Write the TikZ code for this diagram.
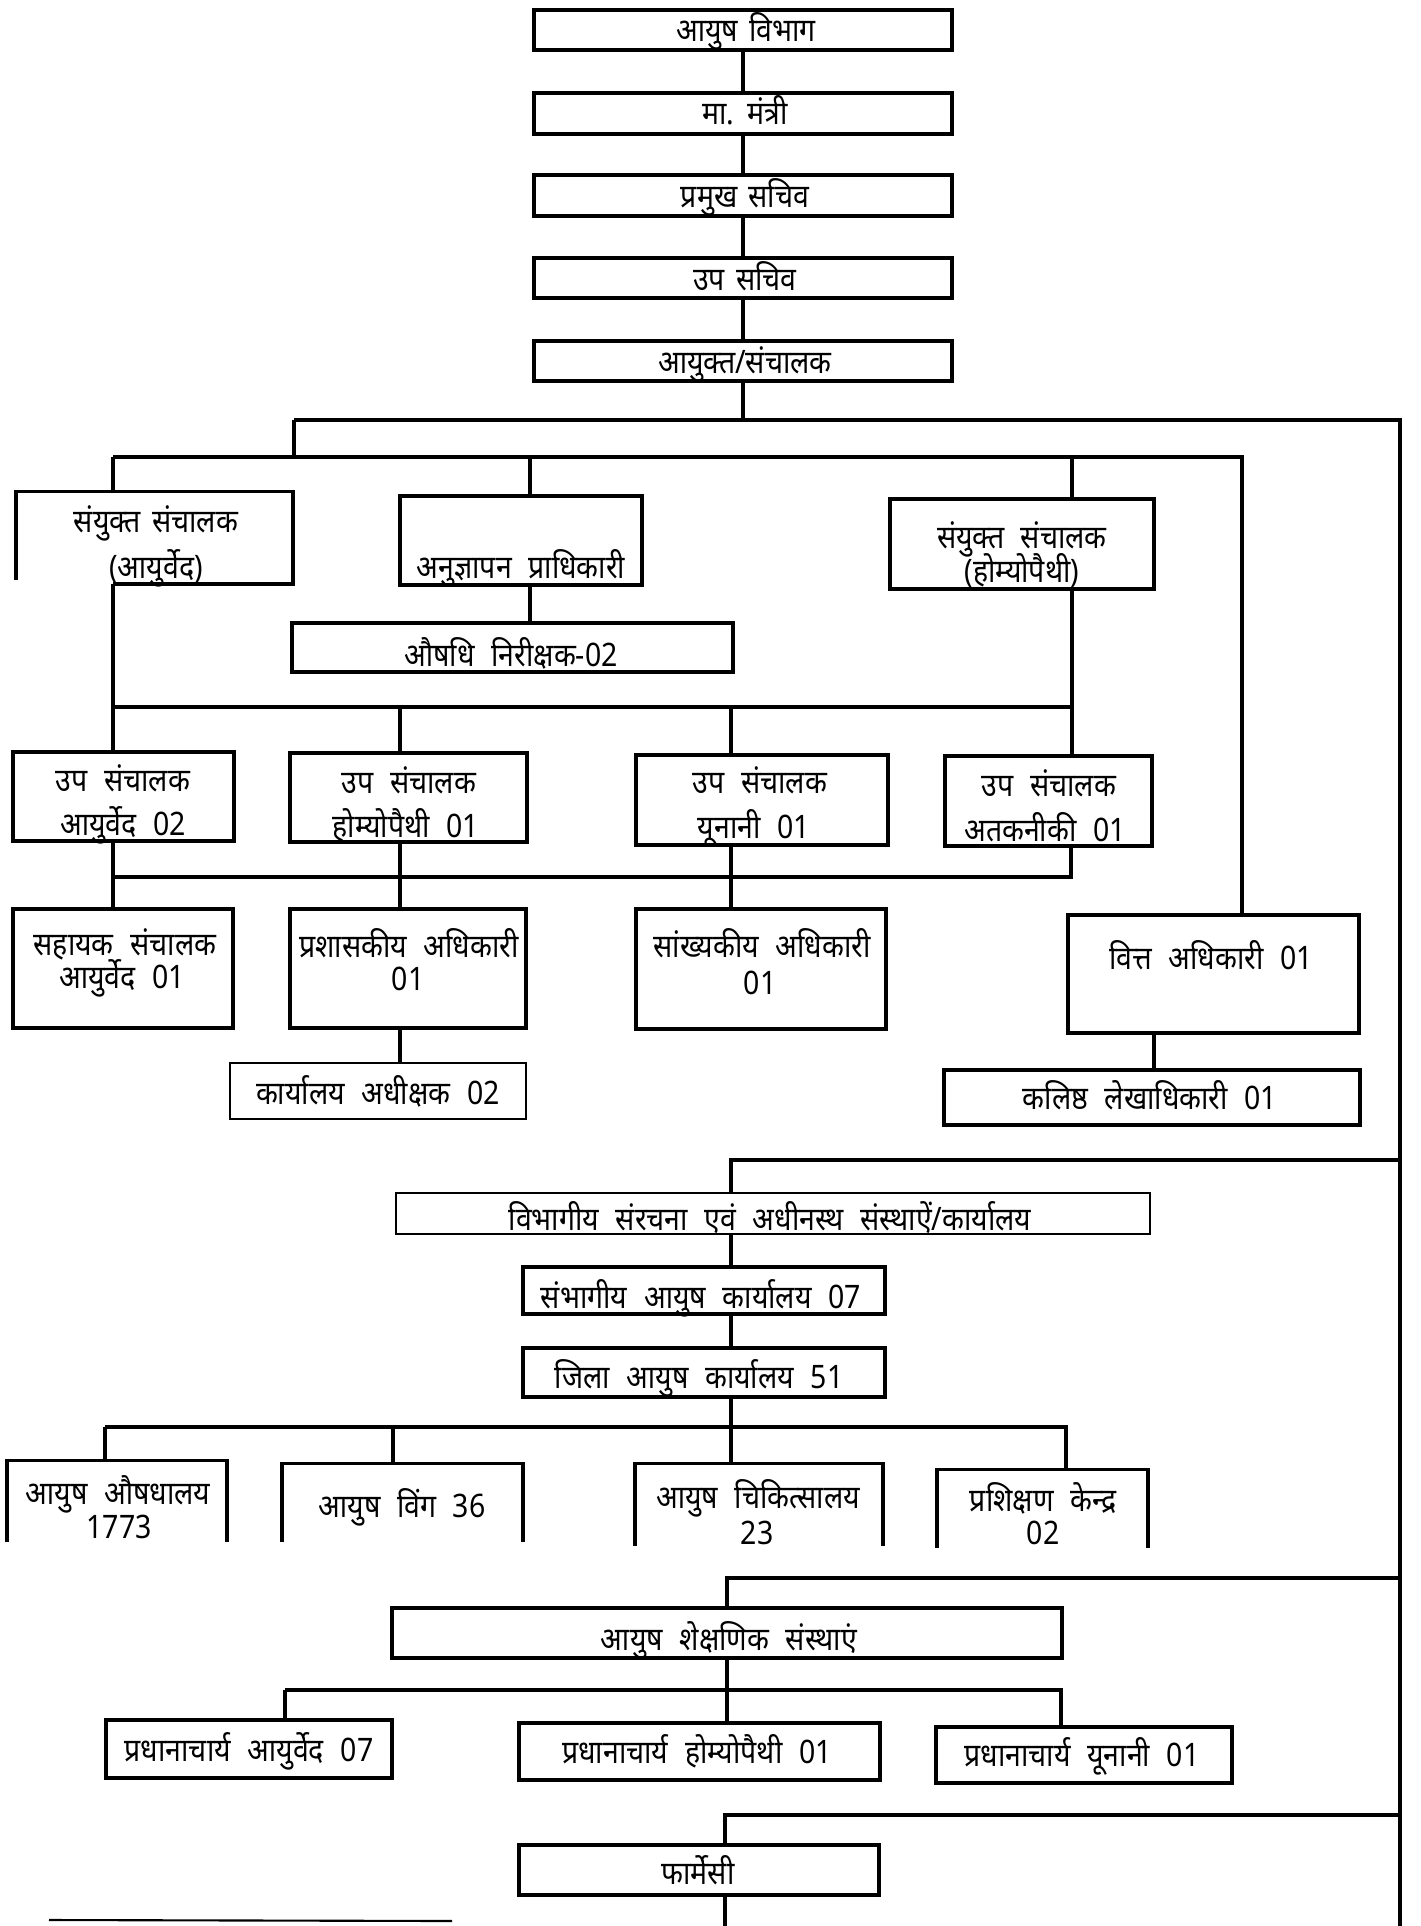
\documentclass[tikz,border=0pt]{standalone}
\usepackage{fontspec}
\newfontfamily\deva[Script=Devanagari, FakeStretch=0.88, WordSpace=1.5]{Noto Sans}
\usetikzlibrary{calc}
\begin{document}
\begin{tikzpicture}[x=0.01cm,y=-0.01cm,
  bx/.style={draw, line width=1pt, inner sep=0pt},
  topbx/.style={bx, line width=1.2pt},
  thinbx/.style={bx, line width=0.6pt},
  openbx/.style={inner sep=0pt},
  ln/.style={line width=0.9pt},
  obx/.style={line width=1pt},
  tx/.style={font=\deva\fontsize{9.2}{11}\selectfont, inner sep=0pt, text height=6.6pt, text depth=0pt},
  txb/.style={tx, font=\deva\bfseries\fontsize{9.2}{11}\selectfont}]
\useasboundingbox (0,0) rectangle (1420,1926);

% ---------- boxes ----------
\node[topbx, minimum width=4.18cm, minimum height=0.40cm] (b1) at (743,30) {};
\node[topbx, minimum width=4.18cm, minimum height=0.41cm] (b2) at (743,113.5) {};
\node[topbx, minimum width=4.18cm, minimum height=0.41cm] (b3) at (743,195.5) {};
\node[topbx, minimum width=4.18cm, minimum height=0.40cm] (b4) at (743,278) {};
\node[topbx, minimum width=4.18cm, minimum height=0.40cm] (b5) at (743,361) {};

\node[openbx, minimum width=2.75cm, minimum height=0.91cm] (A) at (154.5,537.5) {};
\node[bx, minimum width=2.42cm, minimum height=0.89cm] (B) at (521,540.5) {};
\node[bx, minimum width=4.41cm, minimum height=0.49cm] (OI) at (512.5,647.5) {};
\node[bx, minimum width=2.64cm, minimum height=0.90cm] (C) at (1022,544) {};

\node[bx, minimum width=2.21cm, minimum height=0.89cm] (D1) at (123.5,796.5) {};
\node[bx, minimum width=2.37cm, minimum height=0.89cm] (D2) at (408.5,797.5) {};
\node[bx, minimum width=2.52cm, minimum height=0.90cm] (D3) at (762,800) {};
\node[bx, minimum width=2.07cm, minimum height=0.90cm] (D4) at (1048.5,801) {};

\node[bx, minimum width=2.20cm, minimum height=1.19cm] (E1) at (123,968.5) {};
\node[bx, minimum width=2.36cm, minimum height=1.19cm] (E2) at (408,968.5) {};
\node[bx, minimum width=2.50cm, minimum height=1.20cm] (E3) at (761,969) {};
\node[bx, minimum width=2.91cm, minimum height=1.18cm] (F) at (1213.5,974) {};
\node[thinbx, minimum width=2.96cm, minimum height=0.56cm] (G) at (378,1091) {};
\node[bx, minimum width=4.16cm, minimum height=0.55cm] (H) at (1152,1097.5) {};

\node[thinbx, minimum width=7.54cm, minimum height=0.41cm] (I) at (773,1213.5) {};
\node[bx, minimum width=3.62cm, minimum height=0.47cm] (J) at (704,1290.5) {};
\node[bx, minimum width=3.62cm, minimum height=0.49cm] (K) at (704,1372.5) {};

\node[openbx, minimum width=2.18cm, minimum height=0.80cm] (L1) at (117,1501) {};
\node[openbx, minimum width=2.39cm, minimum height=0.77cm] (L2) at (402.5,1502.5) {};
\node[openbx, minimum width=2.46cm, minimum height=0.81cm] (L3) at (759,1504.5) {};
\node[openbx, minimum width=2.09cm, minimum height=0.77cm] (L4) at (1042.5,1508.5) {};

\node[bx, minimum width=6.70cm, minimum height=0.50cm] (M) at (727,1633) {};
\node[bx, minimum width=2.86cm, minimum height=0.58cm] (N1) at (249,1749) {};
\node[bx, minimum width=3.61cm, minimum height=0.57cm] (N2) at (699.5,1751.5) {};
\node[bx, minimum width=2.96cm, minimum height=0.56cm] (N3) at (1084,1755) {};
\node[bx, minimum width=3.60cm, minimum height=0.50cm] (O) at (699,1870) {};

% open boxes
\coordinate (h2L) at (113,457);
\draw[obx] ($(A.south west)+(0,-4)$) -- (A.north west) -- (A.north east) -- (A.south east) -- (A.south east -| h2L);
\draw[obx] (L1.south west) -- (L1.north west) -- (L1.north east) -- (L1.south east);
\draw[obx] (L2.south west) -- (L2.north west) -- (L2.north east) -- (L2.south east);
\draw[obx] (L3.south west) -- (L3.north west) -- (L3.north east) -- (L3.south east);
\draw[obx] (L4.south west) -- (L4.north west) -- (L4.north east) -- (L4.south east);

% ---------- connectors ----------
\draw[ln] (b1) -- (b2);
\draw[ln] (b2) -- (b3);
\draw[ln] (b3) -- (b4);
\draw[ln] (b4) -- (b5);
\coordinate (h1L) at (294,420);
\coordinate (h1R) at (1400,420);
\coordinate (trunk) at (1400,1926);
\draw[ln] (b5.south) -- (b5.south |- h1L);
\draw[ln] (h1L) -- (h1R) -- (trunk);
\coordinate (h2R) at (1242,457);
\draw[ln] (h1L) -- (h1L |- h2L);
\draw[ln] (h2L) -- (h2R) -- (h2R |- F.north);
\draw[ln] (h2L) -- (h2L |- A.north);
\coordinate (cB) at (530,457);
\draw[ln] (cB) -- (cB |- B.north);
\draw[ln] (cB |- B.south) -- (cB |- OI.north);
\coordinate (cC) at (1072,457);
\draw[ln] (cC) -- (cC |- C.north);
\draw[ln] (cC |- C.south) -- (cC |- D4.north);
\coordinate (h3R) at (1072,707);
\draw[ln] (h2L |- h3R) -- (h3R);
\draw[ln] (h2L |- A.south) -- (h2L |- D1.north);
\coordinate (cD2) at (400,707);
\draw[ln] (cD2) -- (cD2 |- D2.north);
\coordinate (cD3) at (731,707);
\draw[ln] (cD3) -- (cD3 |- D3.north);
\coordinate (h4R) at (1071,877);
\draw[ln] (h4R |- D4.south) -- (h4R) -- (h2L |- h4R);
\draw[ln] (h2L |- D1.south) -- (h2L |- E1.north);
\draw[ln] (cD2 |- D2.south) -- (cD2 |- E2.north);
\draw[ln] (cD3 |- D3.south) -- (cD3 |- E3.north);
\draw[ln] (cD2 |- E2.south) -- (cD2 |- G.north);
\coordinate (xH) at (1154,1050);
\draw[ln] (xH |- F.south) -- (xH |- H.north);

\coordinate (s2) at (731,1160);
\draw[ln] (h1R |- s2) -- (s2) -- (s2 |- I.north);
\draw[ln] (s2 |- I.south) -- (s2 |- J.north);
\draw[ln] (s2 |- J.south) -- (s2 |- K.north);
\draw[ln] (s2 |- K.south) -- (s2 |- L3.north);
\coordinate (h5L) at (105,1427);
\coordinate (h5R) at (1066,1427);
\draw[ln] (h5L) -- (h5R) -- (h5R |- L4.north);
\draw[ln] (h5L) -- (h5L |- L1.north);
\coordinate (cL2) at (393,1427);
\draw[ln] (cL2) -- (cL2 |- L2.north);

\coordinate (s3) at (727,1578);
\draw[ln] (h1R |- s3) -- (s3) -- (s3 |- M.north);
\draw[ln] (s3 |- M.south) -- (s3 |- N2.north);
\coordinate (h6L) at (285,1690);
\coordinate (h6R) at (1061,1690);
\draw[ln] (h6L) -- (h6R) -- (h6R |- N3.north);
\draw[ln] (h6L) -- (h6L |- N1.north);

\coordinate (s4) at (725,1815);
\draw[ln] (h1R |- s4) -- (s4) -- (s4 |- O.north);
\draw[ln] (s4 |- O.south) -- (s4 |- trunk);

\coordinate (lo1) at (49,1920);
\coordinate (lo2) at (452,1921);
\draw[line width=0.6pt] (lo1) -- (lo2);

% ---------- texts ----------
\node[tx] (t1) at (746,30) {आयुष विभाग};
\node[tx] (t2) at (745,113) {मा. मंत्री};
\node[tx] (t3) at (745,196) {प्रमुख सचिव};
\node[tx] (t4) at (745,279) {उप सचिव};
\node[tx] (t5) at (745,362) {आयुक्त/संचालक};
\node[tx] (tA1) at (156,521) {संयुक्त संचालक};
\node[tx] (tA2) at (156,567) {(आयुर्वेद)};
\node[txb] (tB) at (521,567) {अनुज्ञापन प्राधिकारी};
\node[txb] (tOI) at (511,655) {औषधि निरीक्षक-02};
\node[txb] (tC1) at (1022,537) {संयुक्त संचालक};
\node[txb] (tC2) at (1022,571) {(होम्योपैथी)};
\node[tx] (tD1a) at (123,780) {उप संचालक};
\node[tx] (tD1b) at (123,824) {आयुर्वेद 02};
\node[tx] (tD2a) at (409,782) {उप संचालक};
\node[tx] (tD2b) at (406,826) {होम्योपैथी 01};
\node[tx] (tD3a) at (760,782) {उप संचालक};
\node[tx] (tD3b) at (754,827) {यूनानी 01};
\node[tx] (tD4a) at (1049,785) {उप संचालक};
\node[tx] (tD4b) at (1045,830) {अतकनीकी 01};
\node[txb] (tE1a) at (125,944) {सहायक संचालक};
\node[txb] (tE1b) at (122,977) {आयुर्वेद 01};
\node[txb] (tE2a) at (409,946) {प्रशासकीय अधिकारी};
\node[txb] (tE2b) at (408,979) {01};
\node[txb] (tE3a) at (762,946) {सांख्यकीय अधिकारी};
\node[txb] (tE3b) at (760,983) {01};
\node[txb] (tF) at (1211,958) {वित्त अधिकारी 01};
\node[txb] (tG) at (378,1093) {कार्यालय अधीक्षक 02};
\node[txb] (tH) at (1150,1098) {कलिष्ठ लेखाधिकारी 01};
\node[txb] (tI) at (770,1219) {विभागीय संरचना एवं अधीनस्थ संस्थाऐं/कार्यालय};
\node[txb] (tJ) at (701,1297) {संभागीय आयुष कार्यालय 07};
\node[txb] (tK) at (699,1377) {जिला आयुष कार्यालय 51};
\node[txb] (tL1a) at (118,1493) {आयुष औषधालय};
\node[txb] (tL1b) at (119,1527) {1773};
\node[txb] (tL2) at (402,1506) {आयुष विंग 36};
\node[tx] (tL3a) at (758,1497) {आयुष चिकित्सालय};
\node[txb] (tL3b) at (757,1533) {23};
\node[txb] (tL4a) at (1043,1500) {प्रशिक्षण केन्द्र};
\node[txb] (tL4b) at (1043,1533) {02};
\node[tx] (tM) at (729,1639) {आयुष शेक्षणिक संस्थाएं};
\node[tx] (tN1) at (249,1750) {प्रधानाचार्य आयुर्वेद 07};
\node[tx] (tN2) at (697,1752) {प्रधानाचार्य होम्योपैथी 01};
\node[tx] (tN3) at (1082,1755) {प्रधानाचार्य यूनानी 01};
\node[tx] (tO) at (698,1873) {फार्मेसी};
\end{tikzpicture}
\end{document}
